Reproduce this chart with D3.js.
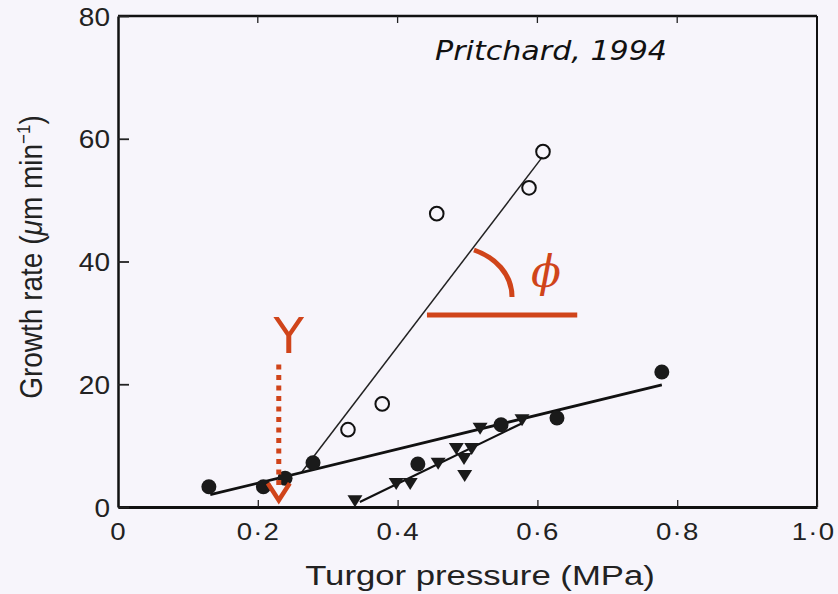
<!DOCTYPE html>
<html><head><meta charset="utf-8">
<script src="https://cdn.jsdelivr.net/npm/d3@7"></script>
<style>
html,body{margin:0;padding:0;background:#f7f5fb;}
svg{display:block;}
</style></head>
<body>
<svg id="c" width="838" height="594"></svg>
<script>
// ---- data ----
const xTickVals = [0, 0.2, 0.4, 0.6, 0.8, 1.0];
const xTickLabels = ["0", "0·2", "0·4", "0·6", "0·8", "1·0"];
const yTickVals = [0, 20, 40, 60, 80];
const yTickLabels = ["0", "20", "40", "60", "80"];
const topTickVals = [0.2, 0.4, 0.6, 0.8];

const openX = [0.329, 0.378, 0.456, 0.588, 0.608];
const openY = [12.6, 16.8, 47.8, 52.0, 57.9];

const filledX = [0.13, 0.208, 0.239, 0.279, 0.429, 0.548, 0.628, 0.778];
const filledY = [3.3, 3.3, 4.7, 7.2, 7.0, 13.4, 14.5, 22.0];

const triX = [0.339, 0.398, 0.418, 0.458, 0.484, 0.506, 0.495, 0.496, 0.518, 0.578];
const triY = [1.1, 3.9, 3.9, 7.2, 9.6, 9.6, 8.0, 5.2, 12.9, 14.3];

const openFitX = [0.263, 0.607], openFitY = [5.7, 57.0];
const filledFitX = [0.132, 0.778], filledFitY = [2.0, 19.9];
const triFitX = [0.346, 0.579], triFitY = [0.8, 13.7];

const yieldX = 0.23, yieldTop = 23.2, yieldBottom = 1.1;
const phiY = 31.3, phiX0 = 0.442, phiX1 = 0.657;

const xTitle = "Turgor pressure (MPa)";
const citation = "Pritchard, 1994";

// ---- layout ----
const L = 118, R = 817, T = 16, B = 507;
const x = d3.scaleLinear().domain([0, 1]).range([L, R]);
const y = d3.scaleLinear().domain([0, 80]).range([B, T]);
const red = "#d0441a";
const svg = d3.select("#c");
const sans = "'Liberation Sans', Arial, sans-serif";

// frame
svg.append("line").attr("x1", L).attr("x2", R).attr("y1", T).attr("y2", T).attr("stroke", "#111").attr("stroke-width", 2.5);
svg.append("line").attr("x1", R).attr("x2", R).attr("y1", T).attr("y2", B).attr("stroke", "#111").attr("stroke-width", 2);

// top ticks
svg.selectAll(".tt").data(topTickVals).join("line")
  .attr("x1", d => x(d)).attr("x2", d => x(d)).attr("y1", T).attr("y2", T + 7)
  .attr("stroke", "#222").attr("stroke-width", 1.3);

// bottom axis
const gx = svg.append("g").attr("transform", `translate(0,${B})`)
  .call(d3.axisBottom(x).tickValues(xTickVals).tickSize(-7).tickSizeOuter(0)
    .tickFormat((d, i) => xTickLabels[i]));
gx.select(".domain").attr("stroke", "#111").attr("stroke-width", 3);
gx.selectAll(".tick line").attr("stroke", "#222").attr("stroke-width", 1.3);
gx.selectAll(".tick text").attr("x", null).attr("y", null).attr("dy", null)
  .attr("transform", (d, i) => `translate(${i === xTickVals.length - 1 ? -4 : 0},33) scale(1.15,1)`)
  .attr("font-family", sans).attr("font-size", 24).attr("fill", "#222")
  .attr("letter-spacing", 1);

// left axis
const gy = svg.append("g").attr("transform", `translate(${L},0)`)
  .call(d3.axisLeft(y).tickValues(yTickVals).tickSize(-11).tickSizeOuter(0)
    .tickFormat((d, i) => yTickLabels[i]));
gy.select(".domain").attr("stroke", "#111").attr("stroke-width", 2.5);
gy.selectAll(".tick line").attr("stroke", "#222").attr("stroke-width", 1.8);
gy.selectAll(".tick text").attr("x", null).attr("y", null).attr("dy", null)
  .attr("text-anchor", "end")
  .attr("transform", "translate(-8,9) scale(1.12,1)")
  .attr("font-family", sans).attr("font-size", 25).attr("fill", "#222");

// axis titles
svg.append("text").attr("text-anchor", "middle")
  .attr("transform", `translate(480,585) scale(1.24,1)`)
  .attr("font-family", sans).attr("font-size", 28).attr("fill", "#222")
  .text(xTitle);

const yt = svg.append("text").attr("text-anchor", "middle")
  .attr("transform", `translate(42,257) rotate(-90) scale(1,1.12)`)
  .attr("font-family", sans).attr("font-size", 28).attr("fill", "#222");
yt.append("tspan").text("Growth rate (");
yt.append("tspan").attr("font-style", "italic").text("μ");
yt.append("tspan").text("m min");
yt.append("tspan").attr("font-size", 17).attr("dy", -11).text("−1");
yt.append("tspan").attr("dy", 11).text(")");

// citation
svg.append("text").attr("x", 435).attr("y", 60)
  .attr("font-family", "'DejaVu Sans', sans-serif").attr("font-style", "italic")
  .attr("font-size", 27).attr("fill", "#111")
  .attr("textLength", 232).attr("lengthAdjust", "spacingAndGlyphs")
  .text(citation);

// fit lines
const line = d3.line().x(d => x(d[0])).y(d => y(d[1]));
svg.append("path").attr("d", line(d3.zip(openFitX, openFitY))).attr("fill", "none").attr("stroke", "#222").attr("stroke-width", 1.5);
svg.append("path").attr("d", line(d3.zip(filledFitX, filledFitY))).attr("fill", "none").attr("stroke", "#111").attr("stroke-width", 2.8);
svg.append("path").attr("d", line(d3.zip(triFitX, triFitY))).attr("fill", "none").attr("stroke", "#111").attr("stroke-width", 2.2);

// markers
svg.selectAll(".oc").data(d3.zip(openX, openY)).join("circle")
  .attr("cx", d => x(d[0])).attr("cy", d => y(d[1])).attr("r", 6.8)
  .attr("fill", "none").attr("stroke", "#111").attr("stroke-width", 2);

svg.selectAll(".fc").data(d3.zip(filledX, filledY)).join("circle")
  .attr("cx", d => x(d[0])).attr("cy", d => y(d[1])).attr("r", 7.5)
  .attr("fill", "#1a1a1a");

svg.selectAll(".tr").data(d3.zip(triX, triY)).join("path")
  .attr("d", "M-7.5,-5L7.5,-5L0,7Z")
  .attr("transform", d => `translate(${x(d[0])},${y(d[1])})`)
  .attr("fill", "#1a1a1a");

// yield threshold annotation
const ax = x(yieldX);
svg.append("line").attr("x1", ax).attr("x2", ax).attr("y1", y(yieldTop)).attr("y2", y(yieldBottom) - 14)
  .attr("stroke", red).attr("stroke-width", 5).attr("stroke-dasharray", "5,5.5");
svg.append("path")
  .attr("d", `M${ax - 11},${y(yieldBottom) - 17}L${ax},${y(yieldBottom)}L${ax + 11},${y(yieldBottom) - 17}`)
  .attr("fill", "none").attr("stroke", red).attr("stroke-width", 4.5);
svg.append("text").attr("x", ax + 10).attr("y", 353).attr("text-anchor", "middle")
  .attr("font-family", "'DejaVu Sans', sans-serif").attr("font-size", 50).attr("fill", red)
  .text("Y");

// angle phi annotation
svg.append("line").attr("x1", x(phiX0)).attr("x2", x(phiX1)).attr("y1", y(phiY)).attr("y2", y(phiY))
  .attr("stroke", red).attr("stroke-width", 5);
svg.append("path").attr("d", "M474,250C495,257 512,274 512,297")
  .attr("fill", "none").attr("stroke", red).attr("stroke-width", 5);
svg.append("text").attr("x", 546).attr("y", 287).attr("text-anchor", "middle")
  .attr("font-family", "'DejaVu Serif', serif").attr("font-style", "italic")
  .attr("font-size", 44).attr("fill", red).text("ϕ");
</script>
</body></html>
